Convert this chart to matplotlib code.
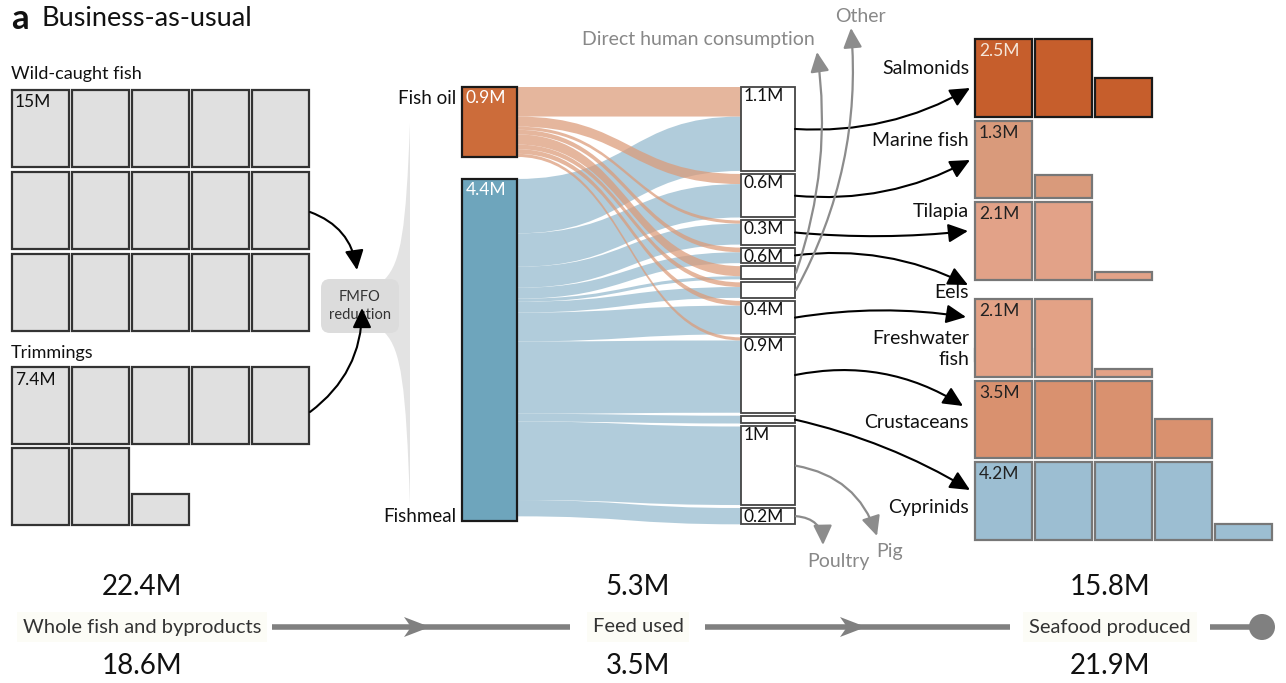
import numpy as np
import matplotlib.pyplot as plt
from matplotlib.patches import Rectangle, FancyArrowPatch, FancyBboxPatch, PathPatch, Polygon, Circle
from matplotlib.path import Path

plt.rcParams['font.family'] = ['Lato', 'DejaVu Sans']

# ---- data (million tonnes) ----
wild_caught = 15.0
trimmings = 7.4
source_names = ['Fish oil', 'Fishmeal']
source_values = [0.9, 4.4]
source_labels = ['0.9M', '4.4M']

feed_labels = ['1.1M', '0.6M', '0.3M', '0.6M', '', '', '0.4M', '0.9M', '', '1M', '0.2M']
feed_values = [1.08, 0.56, 0.31, 0.20, 0.17, 0.20, 0.43, 0.97, 0.10, 1.01, 0.21]
oil_to_feed = [0.38, 0.13, 0.04, 0.06, 0.13, 0.06, 0.06, 0.04, 0.0, 0.0, 0.0]
meal_to_feed = [f - o for f, o in zip(feed_values, oil_to_feed)]

species = ['Salmonids', 'Marine fish', 'Tilapia', 'Eels', 'Freshwater\nfish', 'Crustaceans', 'Cyprinids']
species_values = [2.5, 1.3, 2.1, 0.15, 2.1, 3.5, 4.2]
species_labels = ['2.5M', '1.3M', '2.1M', '', '2.1M', '3.5M', '4.2M']
species_colors = ['#C65E2C', '#D99A7B', '#E2A288', '#D89276', '#E3A286', '#D9916F', '#9CBED2']

other_uses = ['Direct human consumption', 'Other', 'Pig', 'Poultry']

stage_names = ['Whole fish and byproducts', 'Feed used', 'Seafood produced']
stage_top = ['22.4M', '5.3M', '15.8M']
stage_bottom = ['18.6M', '3.5M', '21.9M']

# ---- figure in pixel coordinates ----
W, H = 1286, 683
fig = plt.figure(figsize=(W / 100, H / 100), dpi=100)
ax = fig.add_axes([0, 0, 1, 1])
ax.set_xlim(0, W)
ax.set_ylim(H, 0)
ax.axis('off')

ax.text(11, 19, 'a', fontsize=25, fontweight='bold', va='center', color='#111')
ax.text(42, 19, 'Business-as-usual', fontsize=19.5, va='center', color='#111')


def waffle(value, x0, y0, ncol, cw, ch, px, py, fc, ec, lw=1.6):
    n = int(np.ceil(value))
    for i in range(n):
        r, c = divmod(i, ncol)
        h = ch * min(1.0, value - i)
        ax.add_patch(Rectangle((x0 + c * px, y0 + r * py + ch - h), cw, h,
                               facecolor=fc, edgecolor=ec, lw=lw, zorder=3))


# left waffles
ax.text(11, 74, 'Wild-caught fish', fontsize=13, va='center', color='#111')
waffle(wild_caught, 12, 90, 5, 57, 77, 60, 82, '#E0E0E0', '#333333')
ax.text(15, 102, '15M', fontsize=12.5, va='center', color='#111', zorder=4)
ax.text(11, 353, 'Trimmings', fontsize=13, va='center', color='#111')
waffle(trimmings, 12, 367, 5, 57, 77, 60, 81, '#E0E0E0', '#333333')
ax.text(15, 380, '7.4M', fontsize=12.5, va='center', color='#111', zorder=4)

# FMFO reduction funnel
funnel = Path([(410, 123), (406, 230), (401, 262), (385, 279), (385, 333),
               (401, 350), (406, 385), (410, 505), (410, 123)],
              [Path.MOVETO, Path.CURVE4, Path.CURVE4, Path.CURVE4, Path.LINETO,
               Path.CURVE4, Path.CURVE4, Path.CURVE4, Path.CLOSEPOLY])
ax.add_patch(PathPatch(funnel, facecolor='#E3E3E3', edgecolor='none', zorder=1))
ax.add_patch(FancyBboxPatch((321, 279), 78, 54, boxstyle='round,pad=0,rounding_size=9',
                            facecolor='#DCDCDC', edgecolor='none', zorder=2))
ax.text(360, 306, 'FMFO\nreduction', fontsize=10.5, ha='center', va='center',
        color='#333', linespacing=1.45, zorder=3)

arrow_kw = dict(arrowstyle='-|>,head_length=0.8,head_width=0.38', mutation_scale=15,
                lw=1.5, color='black', zorder=5, shrinkA=0, shrinkB=0)
ax.add_patch(FancyArrowPatch((310, 212), (357, 270), connectionstyle='arc3,rad=-0.3', **arrow_kw))
ax.add_patch(FancyArrowPatch((310, 412), (362, 308), connectionstyle='arc3,rad=0.25', **arrow_kw))

# ---- sankey: fish oil / fishmeal -> feed uses ----
top, bottom = 87, 521
sx0, sx1 = 462, 517
tx0, tx1 = 741, 795
src_gap, tgt_gap = 22, 3
scale = (bottom - top - src_gap) / sum(source_values)

src_y = [top, top + source_values[0] * scale + src_gap]
tgt_y = []
y = top
for v in feed_values:
    tgt_y.append(y)
    y += v * scale + tgt_gap


def band(x0, y0a, y0b, x1, y1a, y1b, color, alpha, z):
    xm = (x0 + x1) / 2
    verts = [(x0, y0a), (xm, y0a), (xm, y1a), (x1, y1a),
             (x1, y1b), (xm, y1b), (xm, y0b), (x0, y0b), (x0, y0a)]
    codes = [Path.MOVETO, Path.CURVE4, Path.CURVE4, Path.CURVE4,
             Path.LINETO, Path.CURVE4, Path.CURVE4, Path.CURVE4, Path.CLOSEPOLY]
    ax.add_patch(PathPatch(Path(verts, codes), facecolor=color, edgecolor='none',
                           alpha=alpha, zorder=z))


# fishmeal flows (below oil at each target)
ys = src_y[1]
for i, v in enumerate(meal_to_feed):
    if v <= 0:
        continue
    yt = tgt_y[i] + oil_to_feed[i] * scale
    band(sx1, ys, ys + v * scale, tx0, yt, yt + v * scale, '#A9C7D7', 0.9, 2)
    ys += v * scale
# fish oil flows
ys = src_y[0]
for i, v in enumerate(oil_to_feed):
    if v <= 0:
        continue
    yt = tgt_y[i]
    band(sx1, ys, ys + v * scale, tx0, yt, yt + v * scale, '#DC9A78', 0.72, 3)
    ys += v * scale

src_colors = ['#CC6C3A', '#6EA5BC']
for i, (name, v) in enumerate(zip(source_names, source_values)):
    ax.add_patch(Rectangle((sx0, src_y[i]), sx1 - sx0, v * scale, facecolor=src_colors[i],
                           edgecolor='#1a1a1a', lw=1.6, zorder=4))
    ax.text(sx0 + 4, src_y[i] + 11, source_labels[i], fontsize=12.5, color='white', va='center', zorder=5)
ax.text(456, src_y[0] + 12, source_names[0], fontsize=13.5, ha='right', va='center', color='#111')
ax.text(456, bottom - 5, source_names[1], fontsize=13.5, ha='right', va='center', color='#111')

for i, v in enumerate(feed_values):
    ax.add_patch(Rectangle((tx0, tgt_y[i]), tx1 - tx0, v * scale, facecolor='white',
                           edgecolor='#444', lw=1.3, zorder=4))
    if feed_labels[i]:
        ax.text(tx0 + 3, tgt_y[i] + 9, feed_labels[i], fontsize=12.5, va='center', color='#111', zorder=5)

# ---- right waffles: seafood produced ----
rx0, ry0, rcw, rch, rpx, rgap = 975, 39, 57, 77.5, 60, 4
y = ry0
for i, v in enumerate(species_values):
    ec = '#1a1a1a' if i == 0 else '#777777'
    waffle(v, rx0, y, 5, rcw, rch, rpx, 0, species_colors[i], ec, lw=1.6)
    if species_labels[i]:
        ax.text(rx0 + 4, y + 12, species_labels[i], fontsize=12.5, va='center', zorder=5,
                color='#F5E6DA' if i == 0 else '#222')
    y += min(1.0, v) * rch + rgap

label_y = [69, 140, 212, 292, 349, 423, 507]
for name, ly in zip(species, label_y):
    ax.text(969, ly, name, fontsize=14, ha='right', va='center',
            color='#111', linespacing=1.3, zorder=5)

# feed box -> species arrows
feed_to_species = [0, 1, 2, 3, None, None, 4, 5, 6, None, None]
arrow_y = [88, 160, 231, 285, 317, 406, 490]
arrow_x = [970, 970, 968, 968, 966, 963, 970]
arrow_rad = [0.15, 0.15, 0.05, -0.15, -0.08, -0.2, -0.08]
for i, sp in enumerate(feed_to_species):
    if sp is None:
        continue
    yc = tgt_y[i] + feed_values[i] * scale / 2
    ax.add_patch(FancyArrowPatch((tx1, yc), (arrow_x[sp], arrow_y[sp]),
                                 connectionstyle=f'arc3,rad={arrow_rad[sp]}', **arrow_kw))

# grey arrows to other uses
grey_kw = dict(arrow_kw, color='#8C8C8C', lw=1.6)
other_from = [4, 5, 9, 10]
other_to = [(817, 52), (851, 28), (877, 536), (823, 545)]
other_rad = [0.12, 0.15, -0.3, -0.45]
for k, i in enumerate(other_from):
    yc = tgt_y[i] + feed_values[i] * scale / 2
    ax.add_patch(FancyArrowPatch((tx1 + 1, yc), other_to[k],
                                 connectionstyle=f'arc3,rad={other_rad[k]}', **grey_kw))
other_pos = [(698, 39), (860, 17), (890, 552), (838, 561)]
for name, (x, y) in zip(other_uses, other_pos):
    ax.text(x, y, name, fontsize=14, ha='center', va='center', color='#888')

# ---- bottom flow line ----
stage_x = [142, 638, 1110]
ly = 627
ax.plot([272, 570], [ly, ly], color='#808080', lw=4, solid_capstyle='butt', zorder=1)
ax.plot([705, 1010], [ly, ly], color='#808080', lw=4, solid_capstyle='butt', zorder=1)
ax.plot([1210, 1262], [ly, ly], color='#808080', lw=4, solid_capstyle='butt', zorder=1)
for tip in [430, 866]:
    ax.add_patch(Polygon([(tip - 26, ly - 10), (tip, ly), (tip - 26, ly + 10), (tip - 19, ly)],
                         closed=True, facecolor='#808080', edgecolor='none', zorder=2))
ax.add_patch(Circle((1262, ly), 13, facecolor='#808080', edgecolor='none', zorder=2))
for x, name, t, b in zip(stage_x, stage_names, stage_top, stage_bottom):
    ax.text(x, 587, t, fontsize=20, ha='center', va='center', color='#111')
    ax.text(x, ly, name, fontsize=14.5, ha='center', va='center', color='#333',
            bbox=dict(boxstyle='square,pad=0.3', facecolor='#FCFCF6', edgecolor='none'))
    ax.text(x, 666, b, fontsize=20, ha='center', va='center', color='#111')

fig.savefig('out.png', dpi=100)
